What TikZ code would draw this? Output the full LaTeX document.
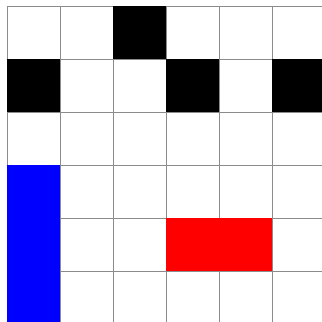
\documentclass[tikz,border=0pt]{standalone}
\usepackage{tikz}
\usepackage[dvipsnames, svgnames]{xcolor}

\begin{document}
\begin{tikzpicture}[x=1cm,y=1cm]
    \useasboundingbox (-0.132,0.057) rectangle (5.943,6.113);
    \draw[black!45,line width=0.5pt] (0,0) grid (6,6);

    % occupied cells
    \fill[black] (2,5) rectangle (3,6);
    \fill[black] (0,4) rectangle (1,5);
    \fill[black] (3,4) rectangle (4,5);
    \fill[black] (5,4) rectangle (6,5);
    \fill[blue] (0,0) rectangle (1,3);
    \fill[red] (3,1) rectangle (5,2);
  \end{tikzpicture}
\end{document}
